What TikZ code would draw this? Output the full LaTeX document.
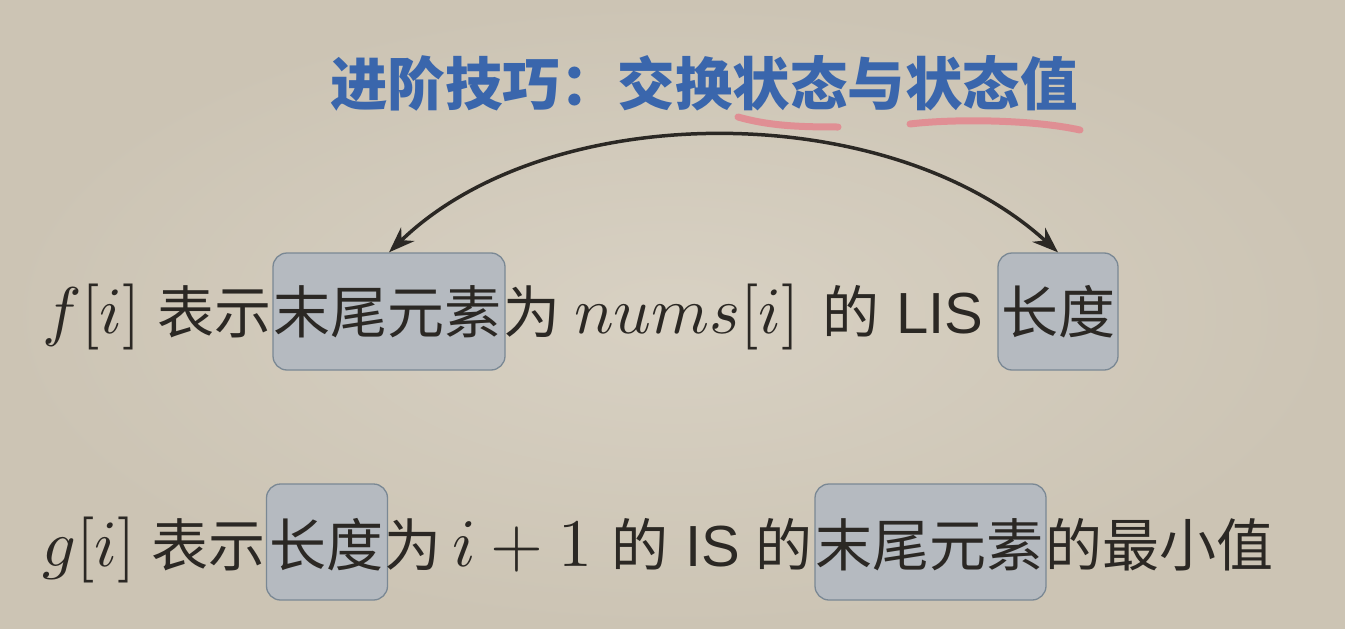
\documentclass[tikz,border=0pt]{standalone}
\usepackage{fontspec}
\usepackage{graphicx}
\setmainfont{Liberation Sans}
\newfontfamily\cjk{Noto Sans CJK SC}
\usetikzlibrary{arrows.meta}
\newcommand{\mybigmath}[1]{\scalebox{6.6}{$#1$}}
\definecolor{bgc}{HTML}{CCC4B4}
\definecolor{bgl}{HTML}{D8D1C3}
\definecolor{ink}{HTML}{2B2824}
\definecolor{ttl}{HTML}{3A66AC}
\definecolor{pinkm}{HTML}{E3868E}
\definecolor{boxf}{HTML}{B5BAC0}
\definecolor{boxd}{HTML}{7A8894}
\tikzset{
  txt/.style={anchor=base west, inner sep=0pt, text=ink, font=\cjk\fontsize{57}{60}\selectfont},
  mth/.style={anchor=base west, inner sep=0pt, text=ink},
  lat/.style={anchor=base west, inner sep=0pt, text=ink, font=\fontsize{58}{62}\selectfont},
  hl/.style={draw=boxd, fill=boxf, line width=1.3pt, rounded corners=14pt, inner sep=0pt},
  marker/.style={draw=pinkm, line width=7pt, line cap=round, opacity=0.85},
  swap/.style={draw=ink, line width=3.5pt, {Stealth[length=26pt,width=19pt]}-{Stealth[length=26pt,width=19pt]}}
}
\begin{document}
\begin{tikzpicture}[x=1pt,y=-1pt]
\useasboundingbox (0,0) rectangle (1345,629);
\fill[bgc] (0,0) rectangle (1345,629);
\shade[inner color=bgl, outer color=bgc] (0,0) rectangle (1345,629);
% title
\node[anchor=base west, inner sep=0pt, text=ttl, font=\cjk\bfseries\fontsize{57.5}{60}\selectfont] (title) at (330,105) {进阶技巧：交换状态与状态值};
\draw[marker] (738,117) .. controls (770,126) and (800,127) .. (838,127);
\draw[marker] (910,124) .. controls (950,119) and (1030,119) .. (1080,130);
% highlight boxes
\node[hl, minimum width=232pt, minimum height=117pt] (b1) at (389,311.5) {};
\node[hl, minimum width=120pt, minimum height=117pt] (b2) at (1058,311.5) {};
\node[hl, minimum width=121pt, minimum height=116pt] (b3) at (327,542) {};
\node[hl, minimum width=231pt, minimum height=116pt] (b4) at (930.5,542) {};
% line 1
\node[mth] (f) at (42,333) {\mybigmath{f[i]}};
\node[txt] (l1a) at (157,333) {表示};
\node[txt] (l1b) at (273,333) {末尾元素};
\node[txt] (l1c) at (503,333) {为};
\node[mth] (l1d) at (574,333) {\mybigmath{nums[i]}};
\node[txt] (l1e) at (822,333) {的};
\node[lat] (l1f) at (896,333) {LIS};
\node[txt] (l1g) at (1001,333) {长度};
% line 2
\node[mth] (g) at (42,566) {\mybigmath{g[i]}};
\node[txt] (l2a) at (151,566) {表示};
\node[txt] (l2b) at (269,566) {长度};
\node[txt] (l2c) at (384,566) {为};
\node[mth] (l2d) at (452,566) {\scalebox{6.8}{$i+1$}};
\node[txt] (l2e) at (611,566) {的};
\node[lat] (l2f) at (685,566) {IS};
\node[txt] (l2g) at (755,566) {的};
\node[txt] (l2h) at (815,566) {末尾元素};
\node[txt] (l2i) at (1045,566) {的最小值};
% swap arrow
\draw[swap] (b2.north) .. controls +(-170,-155) and +(160,-155) .. (b1.north);
\end{tikzpicture}
\end{document}
